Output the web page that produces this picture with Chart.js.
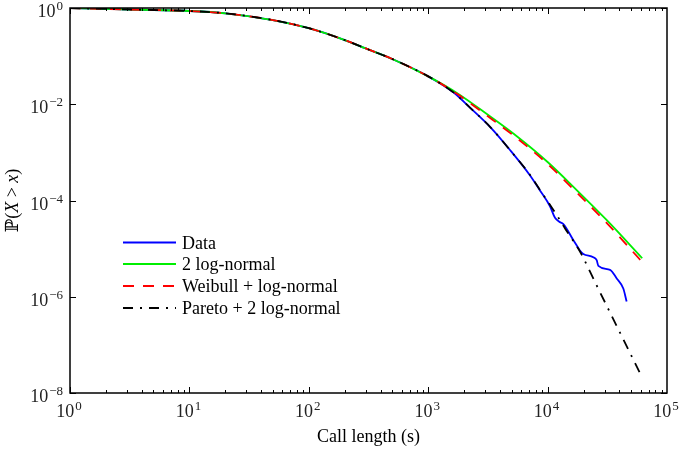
<!DOCTYPE html>
<html>
<head>
<meta charset="utf-8">
<script src="https://cdn.jsdelivr.net/npm/chart.js@4/dist/chart.umd.min.js"></script>
<style>
  html, body { margin: 0; padding: 0; background: #fff; }
  #c { display: block; }
</style>
</head>
<body>
<canvas id="c" width="679" height="450"></canvas>
<script>
// ---------- data ----------
const dataX  = [1, 2, 5, 10, 20, 50, 100, 200, 300, 500, 1000, 1622, 2239, 3296, 4842, 7129, 8630, 10471, 11535, 12500, 13552, 16406, 17498, 18664, 19907, 24155, 25763, 26607, 33343, 37931, 43053, 45920];
const dataY  = [1, 0.955, 0.908, 0.867, 0.776, 0.562, 0.380, 0.216, 0.1445, 0.0871, 0.0380, 0.01778, 0.00851, 0.00339, 0.00112, 3.31e-4, 1.62e-4, 7.59e-5, 4.37e-5, 3.63e-5, 3.24e-5, 1.51e-5, 1.17e-5, 9.12e-6, 7.76e-6, 6.61e-6, 5.75e-6, 4.37e-6, 3.63e-6, 2.40e-6, 1.48e-6, 7.94e-7];

const logn2X = [1, 2, 5, 10, 20, 50, 100, 200, 300, 500, 1000, 1778, 3162, 5623, 10000, 17783, 31623, 62000];
const logn2Y = [1, 0.955, 0.908, 0.867, 0.776, 0.562, 0.380, 0.216, 0.1445, 0.0871, 0.0380, 0.0166, 0.00603, 0.00209, 6.31e-4, 1.585e-4, 3.80e-5, 6.31e-6];

const weibX  = [1, 2, 5, 10, 20, 50, 100, 200, 300, 500, 1000, 1778, 3162, 5623, 10000, 17783, 31623, 62000];
const weibY  = [1, 0.955, 0.908, 0.867, 0.776, 0.562, 0.380, 0.216, 0.1445, 0.0871, 0.0380, 0.01585, 0.00562, 0.00191, 5.75e-4, 1.41e-4, 3.31e-5, 5.25e-6];

const paretoX = [1, 2, 5, 10, 20, 50, 100, 200, 300, 500, 1000, 1622, 2239, 3296, 4842, 7129, 8630, 10471, 11912, 14000, 15922, 18664, 25119, 39811, 61376];
const paretoY = [1, 0.955, 0.908, 0.867, 0.776, 0.562, 0.380, 0.216, 0.1445, 0.0871, 0.0380, 0.01778, 0.00851, 0.00339, 0.00112, 3.39e-4, 1.66e-4, 8.13e-5, 5.01e-5, 2.63e-5, 1.62e-5, 8.71e-6, 1.95e-6, 1.93e-7, 2.19e-8];

const seriesLabels = ['Data', '2 log-normal', 'Weibull + log-normal', 'Pareto + 2 log-normal'];

const xTickValues = [1, 10, 100, 1000, 10000, 100000];
const xTickExps   = ['0', '1', '2', '3', '4', '5'];
const yTickValues = [1, 1e-2, 1e-4, 1e-6, 1e-8];
const yTickExps   = ['0', '\u22122', '\u22124', '\u22126', '\u22128'];

const xTitle = 'Call length (s)';

// ---------- helpers ----------
const pts = (xs, ys) => xs.map((x, i) => ({ x: x, y: ys[i] }));
const SERIF = '"Liberation Serif", "Times New Roman", serif';

function drawPow(ctx, exp, ax, baseY, align) {
  ctx.font = '18px ' + SERIF;
  const w1 = ctx.measureText('10').width;
  ctx.font = '13px ' + SERIF;
  const w2 = ctx.measureText(exp).width;
  const total = w1 + 1 + w2;
  const sx = align === 'center' ? ax - total / 2 : ax - total;
  ctx.textAlign = 'left';
  ctx.textBaseline = 'alphabetic';
  ctx.font = '18px ' + SERIF;
  ctx.fillText('10', sx, baseY);
  ctx.font = '13px ' + SERIF;
  ctx.fillText(exp, sx + w1 + 1, baseY - 7);
}

const axesPlugin = {
  id: 'axesPlugin',
  afterDraw(chart) {
    const ctx = chart.ctx;
    const a = chart.chartArea;
    const xs = chart.scales.x, ys = chart.scales.y;
    ctx.save();
    ctx.strokeStyle = '#000';
    ctx.fillStyle = '#000';

    // ticks (inward, all four sides)
    ctx.lineWidth = 1;
    ctx.beginPath();
    for (let d = 0; d < 5; d++) {
      for (let m = 1; m <= 9; m++) {
        const v = m * Math.pow(10, d);
        const px = Math.round(xs.getPixelForValue(v)) + 0.5;
        const len = m === 1 ? 6 : 3;
        ctx.moveTo(px, a.bottom); ctx.lineTo(px, a.bottom - len);
        ctx.moveTo(px, a.top); ctx.lineTo(px, a.top + len);
      }
    }
    yTickValues.forEach(v => {
      const py = Math.round(ys.getPixelForValue(v)) + 0.5;
      ctx.moveTo(a.left, py); ctx.lineTo(a.left + 6, py);
      ctx.moveTo(a.right, py); ctx.lineTo(a.right - 6, py);
    });
    ctx.stroke();

    // box
    ctx.lineWidth = 1.5;
    ctx.strokeRect(a.left, a.top, a.right - a.left, a.bottom - a.top);

    // tick labels
    ctx.fillStyle = '#222';
    xTickValues.forEach((v, i) => {
      drawPow(ctx, xTickExps[i], xs.getPixelForValue(v) - 1, a.bottom + 24, 'center');
    });
    yTickValues.forEach((v, i) => {
      drawPow(ctx, yTickExps[i], a.left - 7, ys.getPixelForValue(v) + 9, 'right');
    });

    // x title
    ctx.fillStyle = '#000';
    ctx.font = '18px ' + SERIF;
    ctx.textAlign = 'center';
    ctx.textBaseline = 'alphabetic';
    ctx.fillText(xTitle, (a.left + a.right) / 2, 442);

    // y title: P(X > x)
    const parts = [
      ['\u2119', '18px "DejaVu Serif", ' + SERIF],
      ['(', '18px ' + SERIF],
      ['X', 'italic 18px ' + SERIF],
      [' > ', '18px ' + SERIF],
      ['x', 'italic 18px ' + SERIF],
      [')', '18px ' + SERIF]
    ];
    let tot = 0;
    const widths = parts.map(p => { ctx.font = p[1]; const w = ctx.measureText(p[0]).width; tot += w; return w; });
    ctx.translate(18, (a.top + a.bottom) / 2);
    ctx.rotate(-Math.PI / 2);
    ctx.textAlign = 'left';
    let cx = -tot / 2;
    parts.forEach((p, i) => { ctx.font = p[1]; ctx.fillText(p[0], cx, 0); cx += widths[i]; });
    ctx.setTransform(1, 0, 0, 1, 0, 0);

    // legend
    const rows = [242.5, 264, 286, 308];
    [0, 1, 2, 3].forEach((di, r) => {
      const ds = chart.data.datasets[di];
      const yy = rows[r];
      ctx.save();
      ctx.strokeStyle = ds.borderColor;
      ctx.lineWidth = ds.borderWidth;
      ctx.setLineDash(ds.borderDash || []);
      ctx.beginPath();
      ctx.moveTo(123, yy); ctx.lineTo(176, yy);
      ctx.stroke();
      ctx.restore();
      ctx.fillStyle = '#000';
      ctx.font = '18px ' + SERIF;
      ctx.textAlign = 'left';
      ctx.textBaseline = 'alphabetic';
      ctx.fillText(ds.label, 182, yy + 6);
    });
    ctx.restore();
  }
};

new Chart(document.getElementById('c'), {
  type: 'line',
  data: {
    datasets: [
      { label: seriesLabels[0], data: pts(dataX, dataY), borderColor: '#0000ff', borderWidth: 1.8, order: 3 },
      { label: seriesLabels[1], data: pts(logn2X, logn2Y), borderColor: '#00ee00', borderWidth: 1.8, order: 2 },
      { label: seriesLabels[2], data: pts(weibX, weibY), borderColor: '#ff0000', borderWidth: 1.8, borderDash: [11, 9], order: 1 },
      { label: seriesLabels[3], data: pts(paretoX, paretoY), borderColor: '#000000', borderWidth: 1.8, borderDash: [10, 7, 2, 7], order: 0 }
    ]
  },
  options: {
    responsive: false,
    animation: false,
    layout: { padding: { left: 70, right: 12, top: 8, bottom: 57 } },
    elements: { point: { radius: 0 }, line: { cubicInterpolationMode: 'monotone', fill: false } },
    scales: {
      x: { type: 'logarithmic', min: 1, max: 100000, display: false },
      y: { type: 'logarithmic', min: 1e-8, max: 1, display: false }
    },
    plugins: { legend: { display: false }, tooltip: { enabled: false } }
  },
  plugins: [axesPlugin]
});
</script>
</body>
</html>
